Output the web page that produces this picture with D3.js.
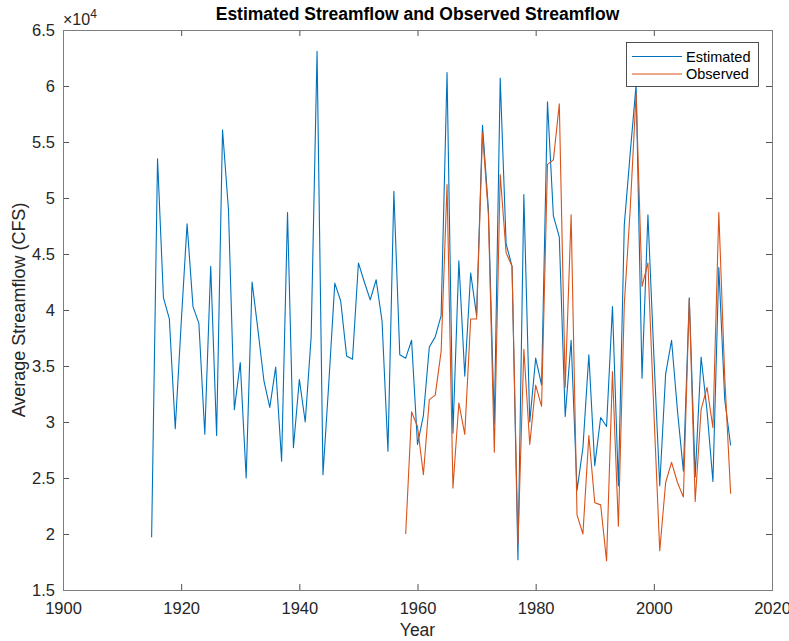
<!DOCTYPE html>
<meta charset="utf-8">
<style>
    body { margin: 0; background: #fff; }
    svg { display: block; font-family: "Liberation Sans", Arial, Helvetica, sans-serif; }
    .axis path { display: none; }
    .axis line { stroke: #262626; stroke-width: 0.8px; }
    .axis text { fill: #262626; font-size: 16.5px; }
    .frame { fill: none; stroke: #7d7d7d; stroke-width: 1px; shape-rendering: crispEdges; }
    .series { fill: none; stroke-width: 1.1px; stroke-linejoin: round; }
</style>
<svg width="789" height="641"></svg>
<script src="https://d3js.org/d3.v7.min.js"></script>
<script>

    // estimated flow, one value per year from 1915
    var estStart = 1915;
    var estimated = [
        19700, 53500, 41100, 39200, 29400, 38800, 47700, 40300, 38800, 28900,
        43900, 28800, 56100, 49000, 31100, 35300, 25000, 42500, 38200, 33700,
        31300, 34900, 26500, 48700, 27700, 33800, 30000, 37600, 63100, 25300,
        33600, 42400, 40800, 35900, 35600, 44200, 42500, 40900, 42700, 39000,
        27400, 50600, 36000, 35700, 37300, 28000, 30600, 36700, 37600, 39500,
        61200, 29000, 44400, 34100, 43300, 39500, 56500, 49000, 29800, 60700,
        45900, 43900, 17700, 50300, 30000, 35700, 33300, 58600, 48400, 46500,
        30500, 37300, 23900, 27700, 36000, 26100, 30400, 29600, 40300, 24300,
        47600, 54000, 60100, 33900, 48500, 36000, 24300, 34300, 37300, 31000,
        25600, 41100, 25100, 35800, 31000, 24700, 43800, 32000, 27900
    ];

    // observed flow, one value per year from 1958
    var obsStart = 1958;
    var observed = [
        20000, 30900, 29600, 25300, 32000, 32400, 36300, 51200, 24100, 31700,
        28900, 39200, 39200, 55800, 48500, 27300, 52100, 45100, 43900, 19100,
        36500, 28000, 33300, 31400, 53000, 53400, 58400, 33100, 48500, 21700,
        20000, 28800, 22800, 22600, 17600, 34500, 20700, 40500, 49000, 59300,
        42100, 44200, 31000, 18500, 24600, 26400, 24600, 23300, 41000, 22900,
        31100, 33100, 29500, 48700, 34000, 23600
    ];

    var seriesNames = ["Estimated", "Observed"];
    var seriesColors = ["#0072BD", "#D95319"];
    var xTicks = [1900, 1920, 1940, 1960, 1980, 2000, 2020];
    var yTicks = [15000, 20000, 25000, 30000, 35000, 40000, 45000, 50000, 55000, 60000, 65000];

    var svg = d3.select("svg"),
        plotLeft = 63, plotRight = 772, plotTop = 30, plotBottom = 590;

    var x = d3.scaleLinear().domain([1900, 2020]).range([plotLeft, plotRight]);
    var y = d3.scaleLinear().domain([15000, 65000]).range([plotBottom, plotTop]);

    function toPoints(start, values) {
        return values.map(function (v, i) { return { year: start + i, value: v }; });
    }

    var line = d3.line()
        .x(function (d) { return x(d.year); })
        .y(function (d) { return y(d.value); });

    // axes, ticks pointing inward on all four sides
    svg.append("g").attr("class", "axis")
        .attr("transform", "translate(0," + plotBottom + ")")
        .call(d3.axisBottom(x).tickValues(xTicks).tickSizeInner(-6).tickSizeOuter(0).tickPadding(12).tickFormat(d3.format("d")));
    svg.append("g").attr("class", "axis")
        .attr("transform", "translate(0," + plotTop + ")")
        .call(d3.axisTop(x).tickValues(xTicks).tickSizeInner(-6).tickSizeOuter(0).tickFormat(""));
    svg.append("g").attr("class", "axis")
        .attr("transform", "translate(" + plotLeft + ",0)")
        .call(d3.axisLeft(y).tickValues(yTicks).tickSizeInner(-6).tickSizeOuter(0).tickPadding(8)
            .tickFormat(function (d) { return String(d / 10000); }));
    svg.append("g").attr("class", "axis")
        .attr("transform", "translate(" + plotRight + ",0)")
        .call(d3.axisRight(y).tickValues(yTicks).tickSizeInner(-6).tickSizeOuter(0).tickFormat(""));

    svg.append("rect").attr("class", "frame")
        .attr("x", plotLeft + 0.5).attr("y", plotTop + 0.5)
        .attr("width", plotRight - plotLeft).attr("height", plotBottom - plotTop);

    svg.append("path").datum(toPoints(estStart, estimated))
        .attr("class", "series").attr("stroke", seriesColors[0]).attr("d", line);
    svg.append("path").datum(toPoints(obsStart, observed))
        .attr("class", "series").attr("stroke", seriesColors[1]).attr("d", line);

    // exponent label
    var expo = svg.append("text").attr("x", plotLeft).attr("y", 25)
        .attr("fill", "#262626").style("font-size", "16px");
    expo.append("tspan").text("\u00d710");
    expo.append("tspan").attr("dy", -7).style("font-size", "12px").text("4");

    svg.append("text")
        .attr("x", (plotLeft + plotRight) / 2).attr("y", 20)
        .attr("text-anchor", "middle")
        .style("font-size", "17.5px").style("font-weight", "bold")
        .text("Estimated Streamflow and Observed Streamflow");

    svg.append("text")
        .attr("x", (plotLeft + plotRight) / 2).attr("y", 636)
        .attr("text-anchor", "middle").attr("fill", "#262626")
        .style("font-size", "17.5px")
        .text("Year");

    svg.append("text")
        .attr("transform", "translate(25," + (plotTop + plotBottom) / 2 + ") rotate(-90)")
        .attr("text-anchor", "middle").attr("fill", "#262626")
        .style("font-size", "18px")
        .text("Average Streamflow (CFS)");

    // legend
    var legend = svg.append("g");
    legend.append("rect")
        .attr("x", 626.5).attr("y", 42.5).attr("width", 132).attr("height", 44)
        .attr("fill", "#fff").attr("stroke", "#262626").attr("stroke-width", 0.8);
    seriesNames.forEach(function (name, i) {
        var ly = 56.5 + i * 17.5;
        legend.append("line")
            .attr("x1", 632).attr("x2", 682).attr("y1", ly).attr("y2", ly)
            .attr("stroke", seriesColors[i]).attr("stroke-width", 1.1);
        legend.append("text")
            .attr("x", 686).attr("y", ly + 5)
            .attr("fill", "#000").style("font-size", "14.5px")
            .text(name);
    });

</script>
